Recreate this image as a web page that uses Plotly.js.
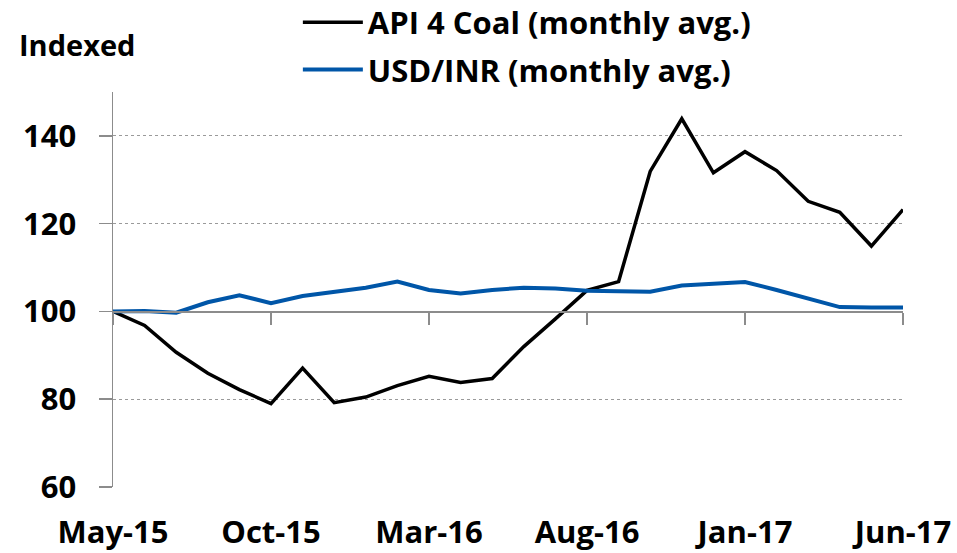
<!DOCTYPE html>
<html>
<head>
<meta charset="utf-8">
<script src="https://cdn.plot.ly/plotly-3.0.1.min.js"></script>
<style>html,body{margin:0;padding:0;background:#fff;}#chart{width:957px;height:553px;}</style>
</head>
<body>
<div id="chart"></div>
<script>
const months = ["May-15","Jun-15","Jul-15","Aug-15","Sep-15","Oct-15","Nov-15","Dec-15","Jan-16","Feb-16","Mar-16","Apr-16","May-16","Jun-16","Jul-16","Aug-16","Sep-16","Oct-16","Nov-16","Dec-16","Jan-17","Feb-17","Mar-17","Apr-17","May-17","Jun-17"];
const coal = [100,96.8,90.7,85.9,82.2,79.0,87.1,79.2,80.5,83.1,85.2,83.8,84.7,92.0,98.3,104.8,106.8,131.9,143.9,131.6,136.4,132.1,125.1,122.6,114.9,123.2];
const inr = [100,100.1,99.7,102.1,103.7,101.9,103.5,104.4,105.4,106.8,104.9,104.1,104.9,105.4,105.2,104.7,104.5,104.5,105.9,106.3,106.7,104.9,103.0,101.0,100.9,100.9];
const xTickLabels = ["May-15","Oct-15","Mar-16","Aug-16","Jan-17","Jun-17"];
const yTicks = [60,80,100,120,140];
const seriesNames = ["API 4 Coal (monthly avg.)","USD/INR (monthly avg.)"];

const FONT = "'Open Sans', 'Liberation Sans', sans-serif";
const traces = [
  {x: months, y: coal, name: seriesNames[0], type: 'scatter', mode: 'lines', legendgroup: 'a',
   line: {color: '#000000', width: 3.5}, xaxis: 'x', yaxis: 'y', hoverinfo: 'skip'},
  {x: months, y: inr, name: seriesNames[1], type: 'scatter', mode: 'lines', legendgroup: 'b',
   line: {color: '#0056A8', width: 4}, xaxis: 'x2', yaxis: 'y', hoverinfo: 'skip'}
];
const layout = {
  width: 957, height: 553,
  margin: {l: 112.7, r: 53.8, t: 92, b: 66.4, autoexpand: false},
  paper_bgcolor: '#fff', plot_bgcolor: '#fff',
  showlegend: true,
  legend: {x: 0.234, y: 1.244, xanchor: 'left', yanchor: 'top', traceorder: 'grouped',
           font: {family: FONT, size: 31, color: '#000', weight: 'bold'},
           itemwidth: 60, tracegroupgap: 4, bgcolor: 'rgba(0,0,0,0)'},
  xaxis: {type: 'category', range: [0, 25], showgrid: false, showline: false, zeroline: false,
          ticks: '', tickmode: 'array', tickvals: xTickLabels, ticktext: xTickLabels,
          tickfont: {family: FONT, size: 31, color: '#000', weight: 'bold'},
          ticklabelstandoff: 24, fixedrange: true},
  xaxis2: {type: 'category', range: [0, 25], overlaying: 'x', anchor: 'free', position: 40/90,
           showgrid: false, zeroline: false, showline: true, linecolor: '#8c8c8c', linewidth: 1.5,
           ticks: 'outside', ticklen: 12, tickwidth: 1.5, tickcolor: '#8c8c8c',
           tickmode: 'array', tickvals: xTickLabels, showticklabels: false, fixedrange: true},
  yaxis: {range: [60, 150], tickmode: 'array', tickvals: yTicks, ticktext: yTicks.map(String),
          showline: true, linecolor: '#8c8c8c', linewidth: 1.5,
          ticks: 'outside', ticklen: 13, tickwidth: 1.5, tickcolor: '#8c8c8c',
          showgrid: true, gridcolor: '#9a9a9a', gridwidth: 1, griddash: 'dot', zeroline: false,
          tickfont: {family: FONT, size: 31, color: '#000', weight: 'bold'},
          ticklabelstandoff: 16, fixedrange: true},
  annotations: [{text: 'Indexed', xref: 'paper', yref: 'paper', x: -0.121, y: 1.119,
                 xanchor: 'left', yanchor: 'middle', showarrow: false,
                 font: {family: FONT, size: 29, color: '#000', weight: 'bold'}}]
};
Plotly.newPlot('chart', traces, layout, {displayModeBar: false, staticPlot: true});
</script>
</body>
</html>
